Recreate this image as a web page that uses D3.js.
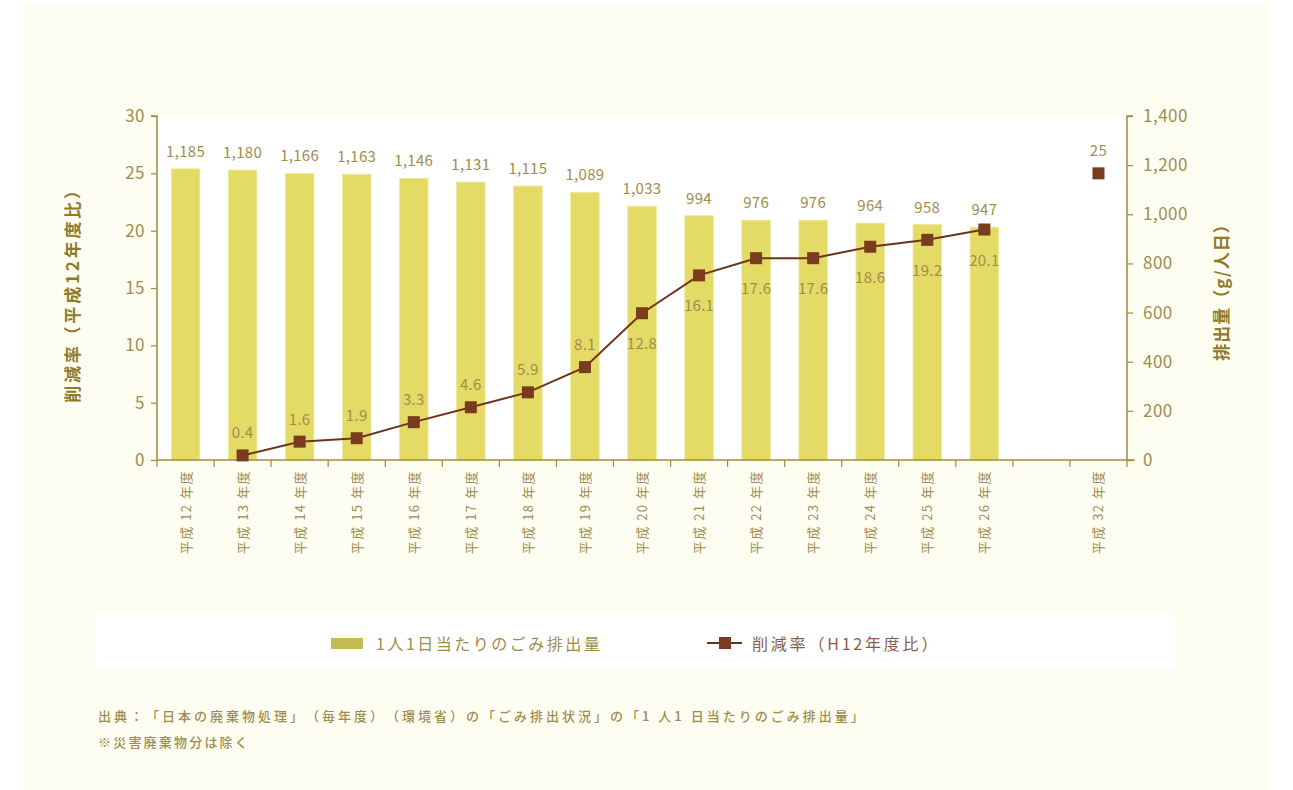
<!DOCTYPE html>
<html lang="ja">
<head>
<meta charset="utf-8">
<script src="https://cdn.jsdelivr.net/npm/d3@7"></script>
<style>
  html, body { margin: 0; padding: 0; background: #ffffff; }
  svg { display: block; font-family: "Noto Sans CJK JP", "Noto Sans", sans-serif; text-spacing-trim: space-all; }
</style>
</head>
<body>
<svg id="chart" width="1293" height="790"></svg>
<script>
// Fiscal years (Heisei era); the empty slot separates actuals from the target year
const years = ["平成 12 年度", "平成 13 年度", "平成 14 年度", "平成 15 年度", "平成 16 年度",
  "平成 17 年度", "平成 18 年度", "平成 19 年度", "平成 20 年度", "平成 21 年度",
  "平成 22 年度", "平成 23 年度", "平成 24 年度", "平成 25 年度", "平成 26 年度",
  "", "平成 32 年度"];

// Waste per person per day (g)
const perCapita = [1185, 1180, 1166, 1163, 1146, 1131, 1115, 1089, 1033, 994,
  976, 976, 964, 958, 947, null, null];

// Reduction rate vs. FY H12 (%)
const reductionRate = [null, 0.4, 1.6, 1.9, 3.3, 4.6, 5.9, 8.1, 12.8, 16.1,
  17.6, 17.6, 18.6, 19.2, 20.1, null, null];

// Target reduction rate for FY H32 (%)
const targetRate = [null, null, null, null, null, null, null, null, null, null,
  null, null, null, null, null, null, 25];

const leftTicks = [0, 5, 10, 15, 20, 25, 30];
const rightTicks = [0, 200, 400, 600, 800, 1000, 1200, 1400];

const legendLabels = ["1人1日当たりのごみ排出量", "削減率（H12年度比）"];
const leftTitle = "削減率（平成12年度比）";
const rightTitle = "排出量（g/人日）";
const notes = [
  "出典：「日本の廃棄物処理」（毎年度）（環境省）の「ごみ排出状況」の「1 人1 日当たりのごみ排出量」",
  "※災害廃棄物分は除く"
];

const C = {
  page: "#fdfdf2",
  bar: "#e4db66",
  barEdge: "#efe89a",
  swatch: "#c4bc50",
  line: "#6e3418",
  marker: "#7a3b1e",
  text: "#a08d4e",
  title: "#8f7a2a",
  axis: "#a08c3a",
  legendLine: "#8a5e46"
};

const svg = d3.select("#chart");
const plot = { left: 157, right: 1127, top: 116, bottom: 460 };

// page backdrop
svg.append("rect").attr("x", 24).attr("y", 6).attr("width", 1246).attr("height", 784)
  .attr("fill", C.page);
svg.append("rect").attr("x", plot.left).attr("y", plot.top)
  .attr("width", plot.right - plot.left).attr("height", plot.bottom - plot.top)
  .attr("fill", "#ffffff");

const x = d3.scaleBand().domain(d3.range(years.length))
  .range([plot.left, plot.right]).paddingInner(0).paddingOuter(0);
const yRate = d3.scaleLinear().domain([0, 30]).range([plot.bottom, plot.top]);
const yAmount = d3.scaleLinear().domain([0, 1400]).range([plot.bottom, plot.top]);

const barW = x.bandwidth() * 0.5;
const cx = i => x(i) + x.bandwidth() / 2;

// bars: waste per person
const barData = perCapita.map((v, i) => ({ i, v })).filter(d => d.v != null);
svg.append("g").selectAll("rect").data(barData).join("rect")
  .attr("x", d => cx(d.i) - barW / 2)
  .attr("y", d => yAmount(d.v))
  .attr("width", barW)
  .attr("height", d => yAmount(0) - yAmount(d.v))
  .attr("fill", C.bar)
  .attr("stroke", C.barEdge).attr("stroke-width", 0.8);

svg.append("g").selectAll("text").data(barData).join("text")
  .attr("x", d => cx(d.i))
  .attr("y", d => yAmount(d.v) - 12)
  .attr("text-anchor", "middle")
  .attr("font-size", 15).attr("letter-spacing", 0.3).attr("fill", C.text)
  .text(d => d3.format(",")(d.v));

// left axis (reduction rate)
const leftAxis = svg.append("g").attr("transform", `translate(${plot.left},0)`)
  .call(d3.axisLeft(yRate).tickValues(leftTicks).tickSize(6).tickPadding(6));
// right axis (amount)
const rightAxis = svg.append("g").attr("transform", `translate(${plot.right},0)`)
  .call(d3.axisRight(yAmount).tickValues(rightTicks).tickSize(6).tickPadding(10)
    .tickFormat(d3.format(",")));
// category axis: ticks at band boundaries
const xAxis = svg.append("g").attr("transform", `translate(0,${plot.bottom})`);
xAxis.append("line").attr("x1", plot.left).attr("x2", plot.right + 8)
  .attr("stroke", C.axis).attr("stroke-width", 1.5);
xAxis.selectAll("line.tick").data(d3.range(years.length + 1)).join("line")
  .attr("class", "tick")
  .attr("x1", i => plot.left + i * x.bandwidth())
  .attr("x2", i => plot.left + i * x.bandwidth())
  .attr("y1", 0).attr("y2", 7)
  .attr("stroke", C.axis).attr("stroke-width", 1.2);
xAxis.selectAll("text").data(years.map((t, i) => ({ t, i })).filter(d => d.t)).join("text")
  .attr("transform", d => `translate(${cx(d.i) + 5},${10}) rotate(-90)`)
  .attr("text-anchor", "end")
  .attr("font-size", 13).attr("letter-spacing", 1.5)
  .attr("fill", C.text)
  .text(d => d.t);

[leftAxis, rightAxis].forEach(g => {
  g.select(".domain").attr("stroke", C.axis).attr("stroke-width", 1.5);
  g.selectAll(".tick line").attr("stroke", C.axis).attr("stroke-width", 1.2);
  g.selectAll(".tick text").attr("fill", C.text).attr("font-size", 17)
    .attr("letter-spacing", 0.5)
    .attr("font-family", "'Noto Sans CJK JP', sans-serif");
});
leftAxis.select(".domain").attr("d", `M-6,${plot.top}H0V${plot.bottom}`);
rightAxis.select(".domain").attr("d", `M6,${plot.top}H0V${plot.bottom}`);

// reduction-rate line
const rateData = reductionRate.map((v, i) => ({ i, v })).filter(d => d.v != null);
svg.append("path").datum(rateData)
  .attr("fill", "none").attr("stroke", C.line).attr("stroke-width", 2)
  .attr("d", d3.line().x(d => cx(d.i)).y(d => yRate(d.v)));

const targetData = targetRate.map((v, i) => ({ i, v })).filter(d => d.v != null);
const allMarkers = rateData.concat(targetData);
const mk = 12;
svg.append("g").selectAll("rect").data(allMarkers).join("rect")
  .attr("x", d => cx(d.i) - mk / 2)
  .attr("y", d => yRate(d.v) - mk / 2)
  .attr("width", mk).attr("height", mk)
  .attr("fill", C.marker);

// rate labels: above the marker while small, below once the line rises into the bars
svg.append("g").selectAll("text").data(allMarkers).join("text")
  .attr("x", d => cx(d.i))
  .attr("y", d => (d.v >= 10 && d.v < 25) ? yRate(d.v) + 36 : yRate(d.v) - 17)
  .attr("text-anchor", "middle")
  .attr("font-size", 15).attr("letter-spacing", 0.3).attr("fill", C.text)
  .text(d => d.v);

// axis titles
svg.append("text")
  .attr("transform", "translate(79,291) rotate(-90)")
  .attr("text-anchor", "middle").attr("font-size", 17).attr("font-weight", 700)
  .attr("letter-spacing", 2.8)
  .attr("fill", C.title).text(leftTitle);
svg.append("text")
  .attr("transform", "translate(1228,288) rotate(-90)")
  .attr("text-anchor", "middle").attr("font-size", 17).attr("font-weight", 700)
  .attr("letter-spacing", 1)
  .attr("fill", C.title).text(rightTitle);

// legend
const lg = svg.append("g");
lg.append("rect").attr("x", 96).attr("y", 614).attr("width", 1078).attr("height", 55)
  .attr("fill", "#ffffff");
lg.append("rect").attr("x", 331).attr("y", 638).attr("width", 32).attr("height", 11)
  .attr("fill", C.swatch);
lg.append("text").attr("x", 376).attr("y", 650).attr("font-size", 16)
  .attr("letter-spacing", 2.5)
  .attr("fill", C.text).text(legendLabels[0]);
lg.append("line").attr("x1", 707).attr("x2", 742).attr("y1", 643).attr("y2", 643)
  .attr("stroke", C.line).attr("stroke-width", 2);
lg.append("rect").attr("x", 719).attr("y", 637).attr("width", 12).attr("height", 12)
  .attr("fill", C.marker);
lg.append("text").attr("x", 752).attr("y", 650).attr("font-size", 16)
  .attr("letter-spacing", 2.8)
  .attr("fill", C.legendLine).text(legendLabels[1]);

// source notes
const noteSpacing = [3.0, 2.2];
svg.append("g").selectAll("text").data(notes).join("text")
  .attr("x", 98).attr("y", (d, i) => 721 + i * 26)
  .attr("font-size", 13).attr("font-weight", 500)
  .attr("letter-spacing", (d, i) => noteSpacing[i])
  .attr("fill", C.text).text(d => d);
</script>
</body>
</html>
